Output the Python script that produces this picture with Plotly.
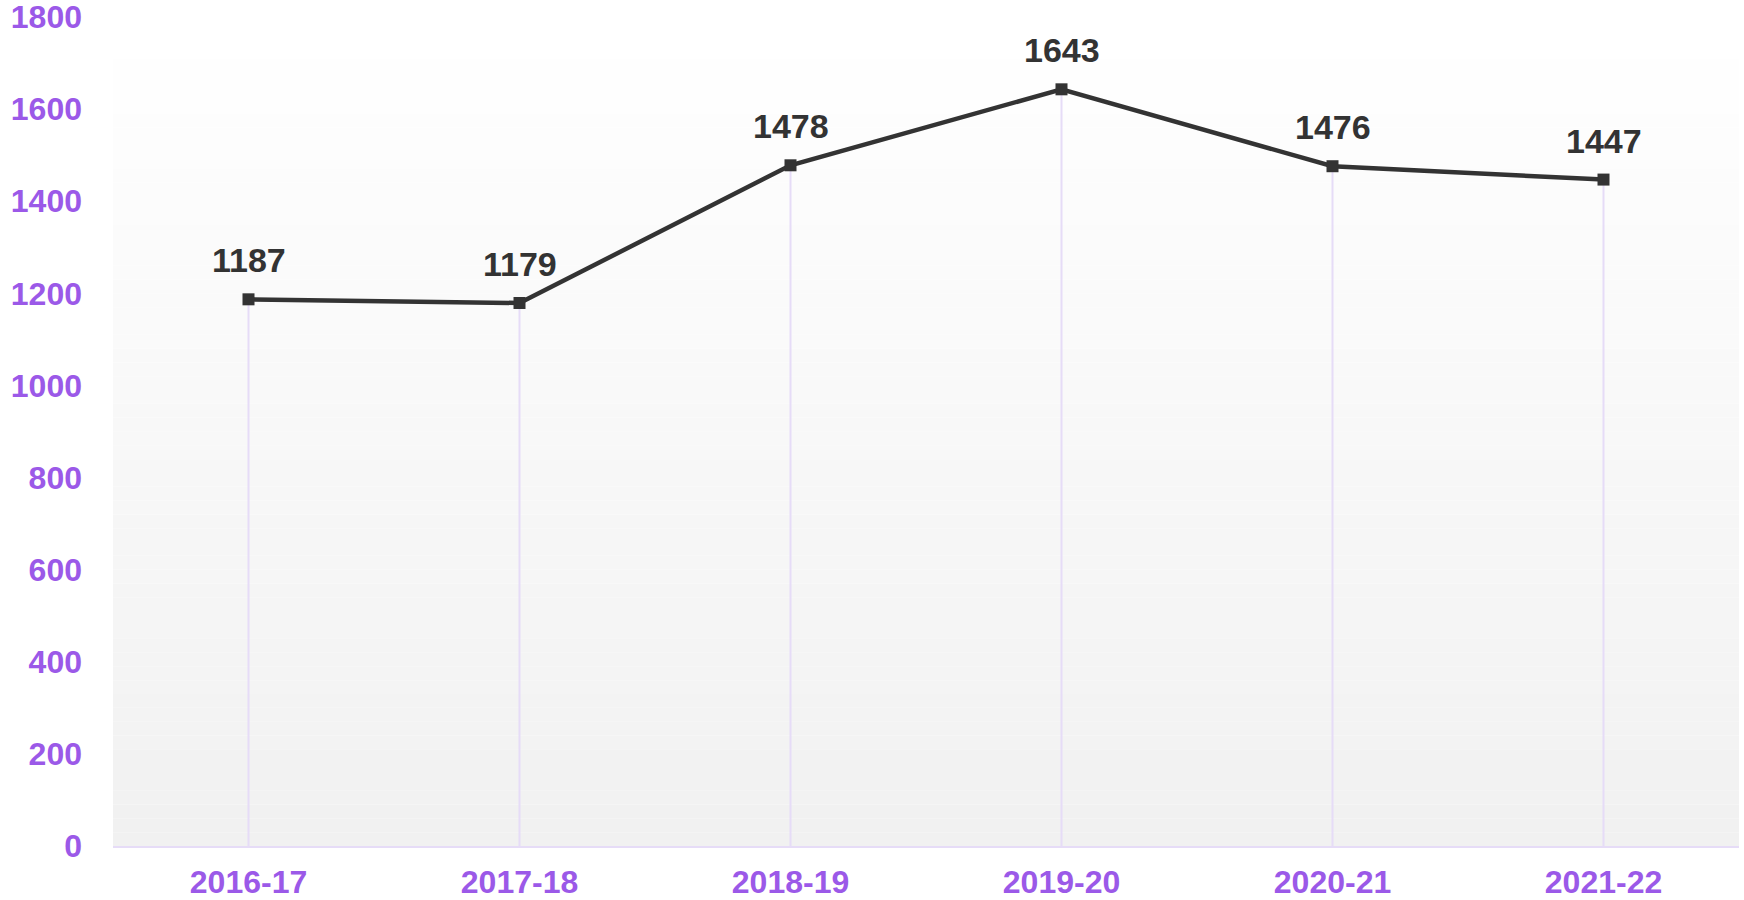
import plotly.graph_objects as go

categories = ["2016-17", "2017-18", "2018-19", "2019-20", "2020-21", "2021-22"]
values = [1187, 1179, 1478, 1643, 1476, 1447]
y_ticks = [0, 200, 400, 600, 800, 1000, 1200, 1400, 1600, 1800]

PURPLE = "#9b59e8"
GRID = "#e6dcf7"
DARK = "#333333"
FONT = "Liberation Sans, Arial, sans-serif"

fig = go.Figure()

fig.add_trace(go.Scatter(
    x=categories, y=values,
    mode="lines+markers",
    line=dict(color=DARK, width=4.5),
    marker=dict(symbol="square", size=12, color=DARK),
    error_y=dict(type="data", symmetric=False, array=[0] * len(values),
                 arrayminus=values, color=GRID, thickness=2, width=0),
    cliponaxis=False,
    hoverinfo="x+y",
))

for c, v in zip(categories, values):
    fig.add_annotation(x=c, y=v, text=str(v), showarrow=False, yshift=39,
                       font=dict(family=FONT, size=34, color=DARK, weight="bold"))

# vertical gradient background (white top -> light grey bottom)
n = 60
shapes = []
for i in range(n):
    t = i / (n - 1)
    c = round(255 - (255 - 241) * (1 - t))
    shapes.append(dict(type="rect", xref="paper", yref="paper",
                       x0=0, x1=1, y0=i / n, y1=(i + 1) / n,
                       fillcolor=f"rgb({c},{c},{c})", line=dict(width=0),
                       layer="below"))

fig.update_layout(
    width=1744, height=900,
    margin=dict(l=113, r=5, t=17, b=54),
    paper_bgcolor="white",
    plot_bgcolor="rgba(0,0,0,0)",
    showlegend=False,
    shapes=shapes,
    font=dict(family=FONT),
    xaxis=dict(
        type="category", range=[-0.5, 5.5], automargin=False,
        showgrid=False, zeroline=False,
        showline=True, linecolor=GRID, linewidth=2,
        ticks="", ticklabelstandoff=7, ticklabeloverflow="allow",
        tickfont=dict(family=FONT, size=32, color=PURPLE, weight="bold"),
    ),
    yaxis=dict(
        range=[0, 1800], tickvals=y_ticks, automargin=False,
        showgrid=False, zeroline=False, showline=False,
        ticks="", ticklabelstandoff=30, ticklabeloverflow="allow",
        tickfont=dict(family=FONT, size=32, color=PURPLE, weight="bold"),
    ),
)

fig.write_html(
    "out.html",
    config={"displayModeBar": False},
    post_script="document.body.style.margin='0';document.body.style.overflow='hidden';",
)
